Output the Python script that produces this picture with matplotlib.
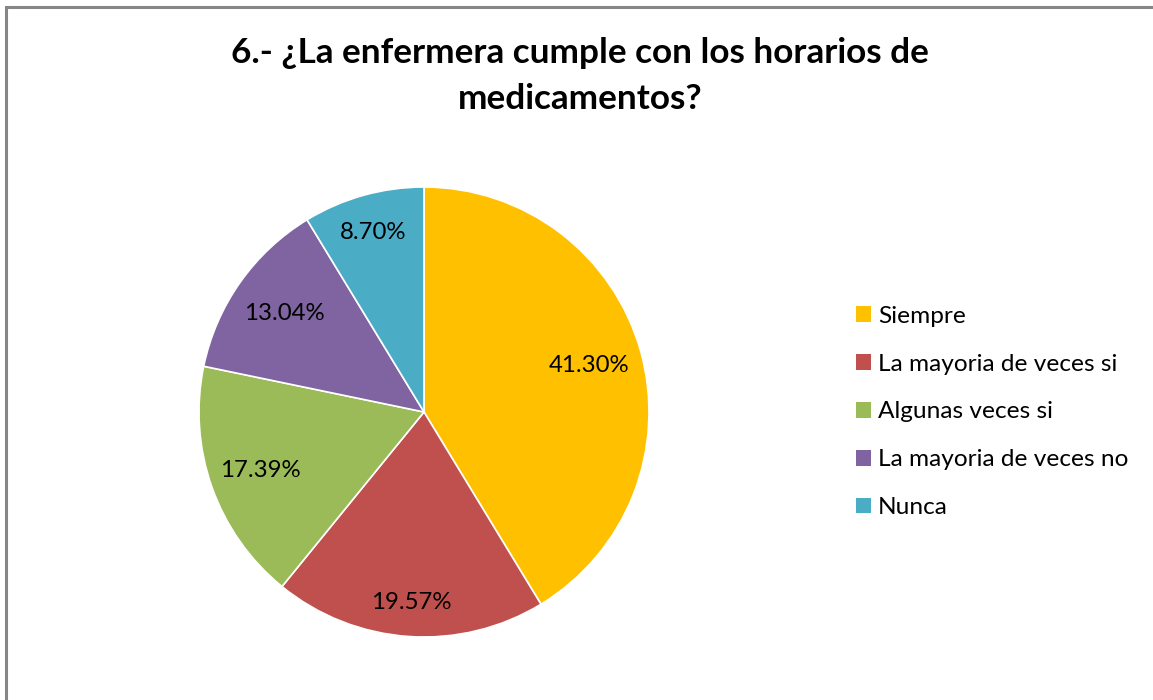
import matplotlib
matplotlib.use("Agg")
import matplotlib.pyplot as plt
import numpy as np
from matplotlib.patches import Rectangle, Patch

categories = ["Siempre", "La mayoria de veces si", "Algunas veces si",
              "La mayoria de veces no", "Nunca"]
values = [41.30, 19.57, 17.39, 13.04, 8.70]
colors = ["#FFC000", "#C0504D", "#9BBB59", "#8064A2", "#4BACC6"]
title_lines = ["6.- ¿La enfermera cumple con los horarios de", "medicamentos?"]

plt.rcParams['font.family'] = ['Lato', 'DejaVu Sans']

W, H = 1153, 700
fig = plt.figure(figsize=(W / 100, H / 100), dpi=100)
fig.patch.set_facecolor("white")

# outer border (right/bottom cut off)
fig.patches.append(Rectangle((5.5 / W, -0.1), 1.2, 1.1 - 6.5 / H,
                             transform=fig.transFigure, fill=False,
                             edgecolor="#868686", linewidth=2.2))

cx, cy, r = 424, 412, 225
ax = fig.add_axes([(cx - r) / W, (H - cy - r) / H, 2 * r / W, 2 * r / H])
wedges, texts = ax.pie(values, colors=colors, startangle=90, counterclock=False,
                       radius=1.0, wedgeprops=dict(linewidth=1.2, edgecolor="white"))
ax.set_xlim(-1, 1)
ax.set_ylim(-1, 1)
ax.set_aspect('equal')
ax.axis('off')

label_dist = [0.76, 0.85, 0.77, 0.76, 0.83]
for w, v, d in zip(wedges, values, label_dist):
    ang = np.deg2rad((w.theta1 + w.theta2) / 2)
    ax.text(d * np.cos(ang), d * np.sin(ang), f"{v:.2f}%", ha='center', va='center',
            fontsize=17.3, color="#000000")

for line, y in zip(title_lines, [53, 99]):
    fig.text(580 / W, 1 - y / H, line, ha='center', va='center', fontsize=25.3,
             fontweight='bold')

handles = [Patch(facecolor=c, edgecolor='none') for c in colors]
leg = fig.legend(handles, categories, loc='center left',
                 bbox_to_anchor=(834 / W, 1 - 412 / H), frameon=False,
                 fontsize=17.6, handlelength=0.6, handleheight=0.6,
                 handletextpad=0.3, labelspacing=1.1)

fig.savefig("out.png", dpi=100, facecolor="white")
